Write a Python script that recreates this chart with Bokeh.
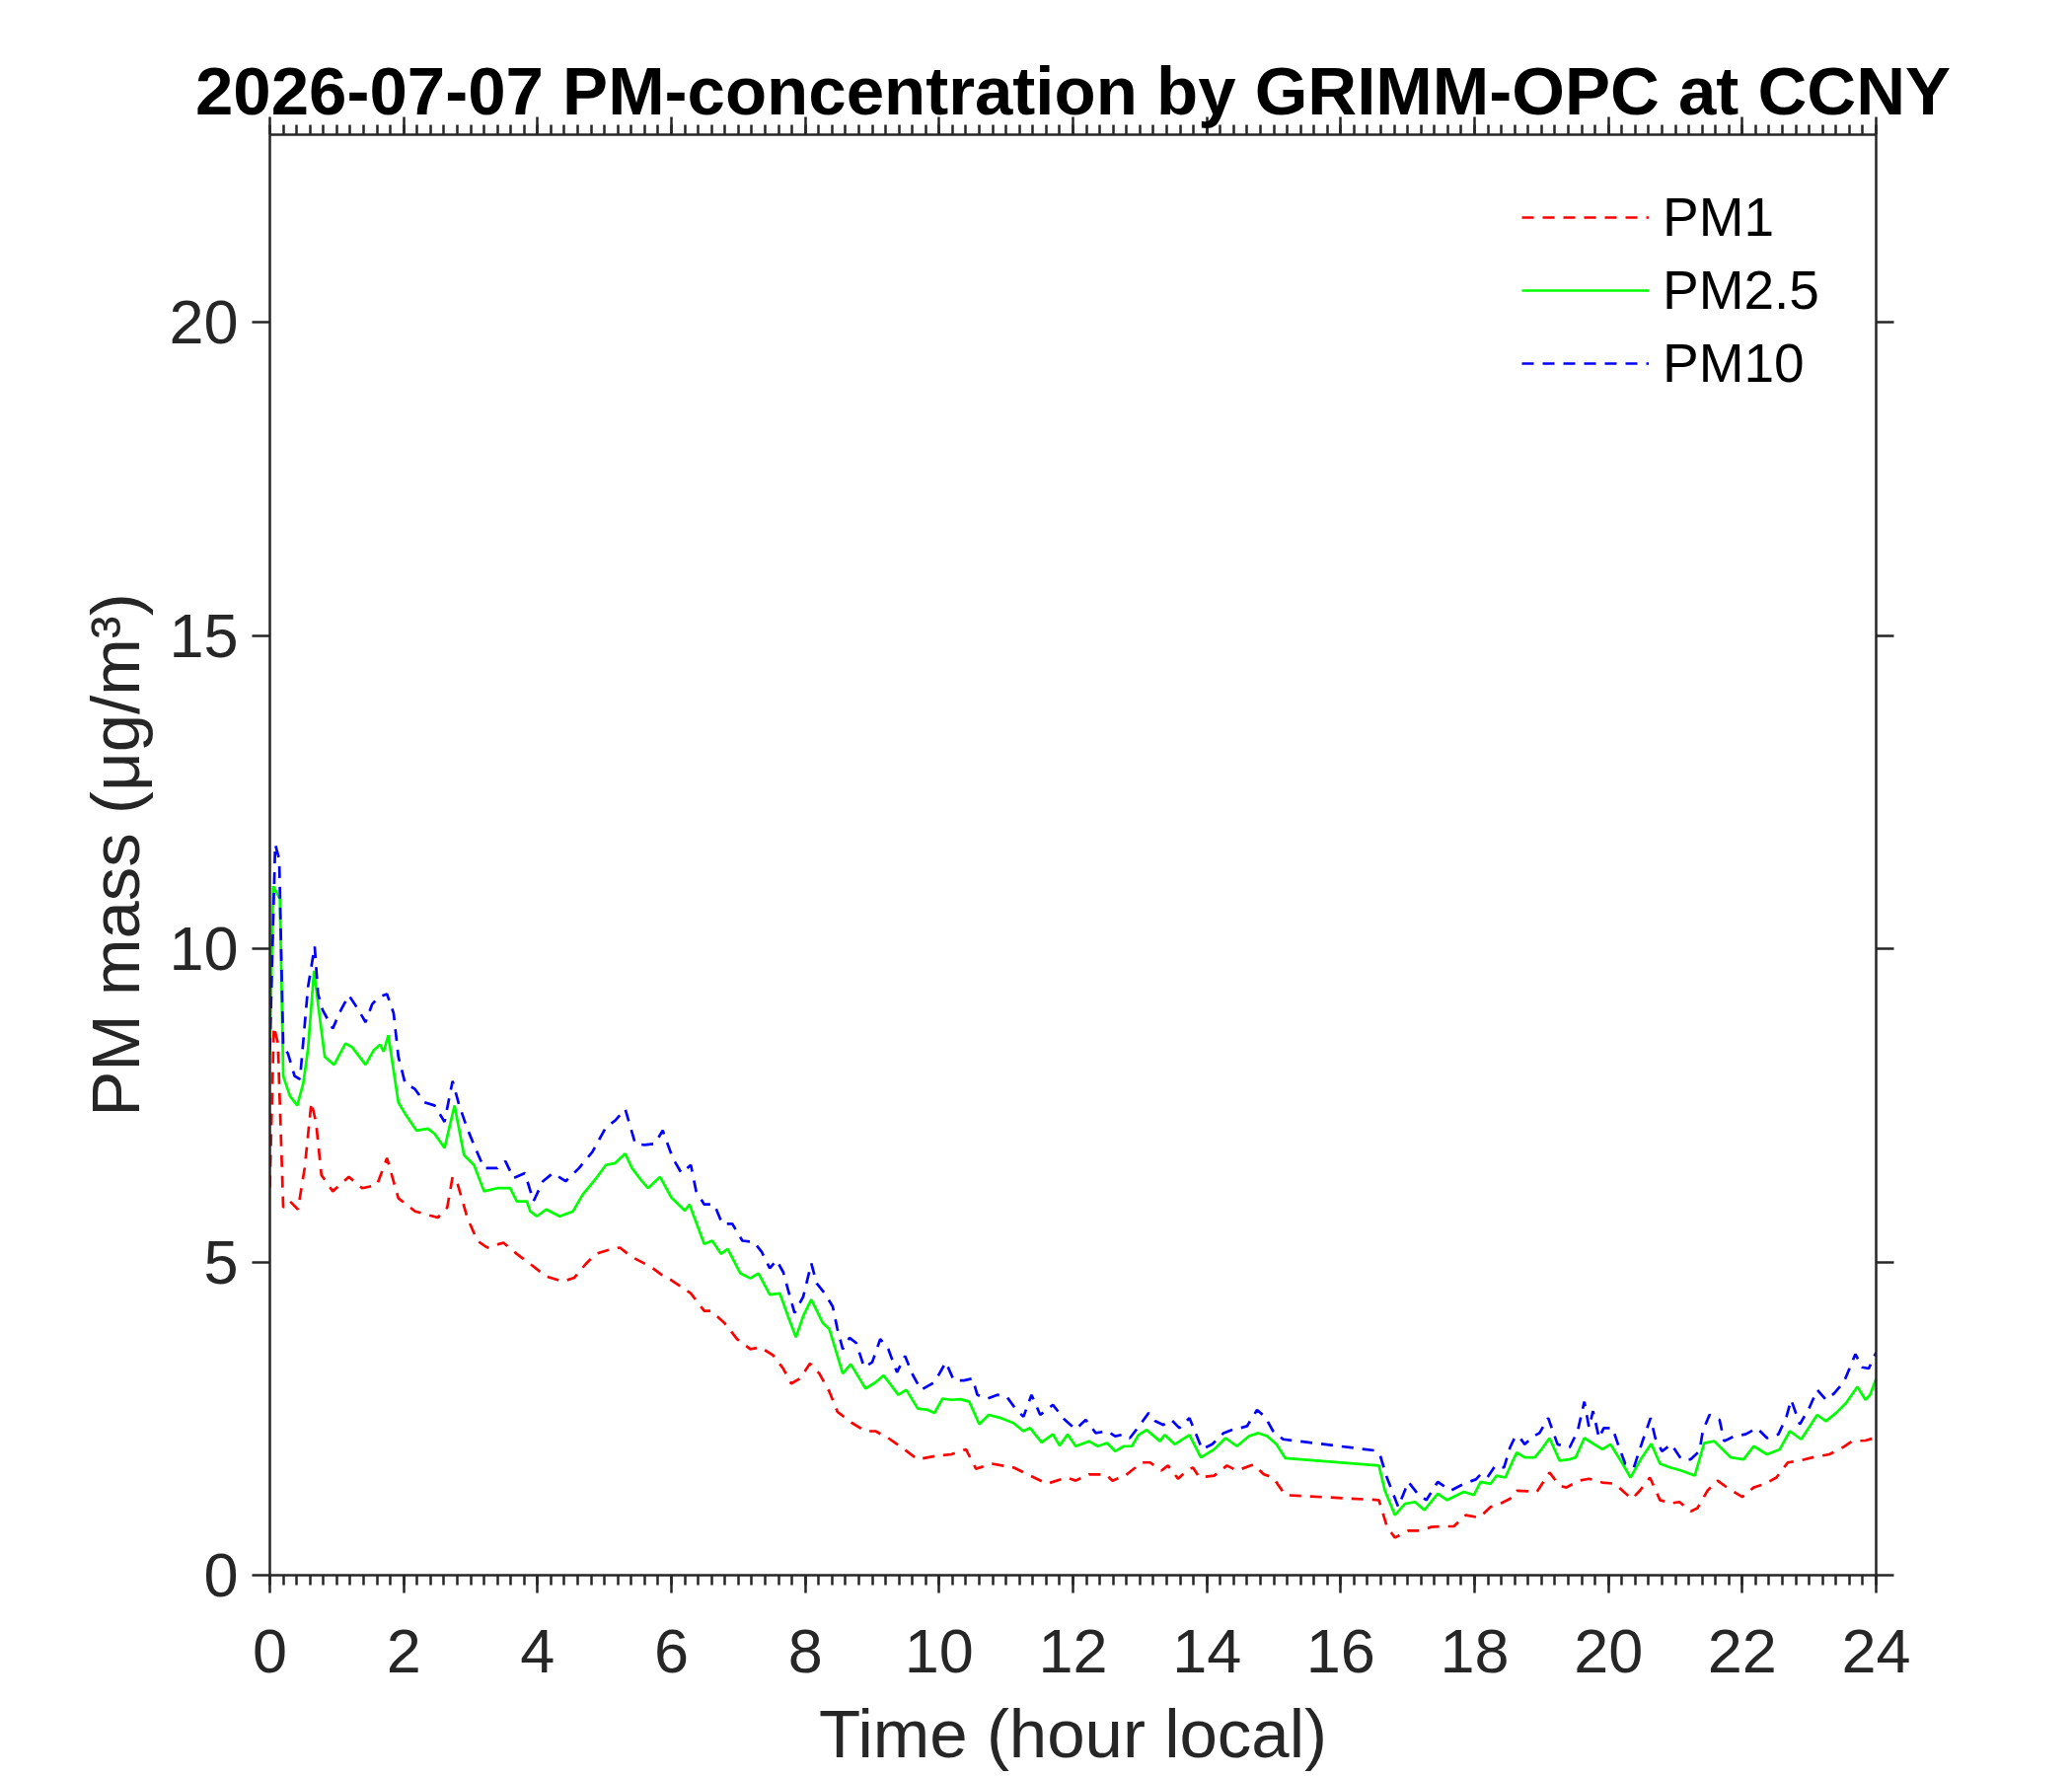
from bokeh.plotting import figure
from bokeh.models import Range1d, LinearAxis, SingleIntervalTicker
from bokeh.embed import file_html
from bokeh.resources import INLINE

title_text = "2026-07-07 PM-concentration by GRIMM-OPC at CCNY"
x_label = "Time (hour local)"
y_label = "PM mass (\u03bcg/m\u00b3)"
series_names = ["PM1", "PM2.5", "PM10"]

t_pm1 = [0.0, 0.06, 0.12, 0.20, 0.30, 0.42, 0.52, 0.62, 0.69, 0.77, 0.94, 1.18, 1.38, 1.60, 1.75, 1.92,
         2.17, 2.51, 2.65, 2.73, 2.81, 2.95, 3.10, 3.25, 3.49, 3.69, 3.89, 4.13, 4.38, 4.55, 4.72, 4.87,
         5.11, 5.23, 5.41, 5.70, 5.85, 6.00, 6.29, 6.49, 6.59, 6.79, 6.98, 7.18, 7.33, 7.52, 7.67, 7.79,
         7.92, 8.07, 8.21, 8.36, 8.48, 8.70, 8.90, 9.05, 9.24, 9.44, 9.68, 9.93, 10.18, 10.40, 10.55,
         10.79, 11.11, 11.36, 11.61, 11.90, 12.04, 12.24, 12.49, 12.59, 12.78, 13.03, 13.15, 13.32, 13.42,
         13.57, 13.67, 13.79, 13.89, 14.11, 14.30, 14.45, 14.70, 14.85, 14.99, 15.17, 16.57, 16.69, 16.81,
         17.01, 17.20, 17.35, 17.50, 17.69, 17.87, 18.07, 18.24, 18.36, 18.53, 18.63, 18.80, 18.93, 19.12,
         19.27, 19.37, 19.56, 19.71, 19.91, 20.10, 20.23, 20.35, 20.47, 20.62, 20.77, 20.94, 21.06, 21.23,
         21.33, 21.48, 21.63, 21.80, 22.00, 22.17, 22.34, 22.51, 22.68, 22.86, 23.05, 23.30, 23.50, 23.64,
         23.84, 24.00]
pm1 = [6.19, 8.76, 8.50, 5.87, 5.97, 5.84, 6.50, 7.55, 7.23, 6.39, 6.13, 6.36, 6.18, 6.23, 6.66, 6.02,
       5.81, 5.71, 5.87, 6.36, 6.23, 5.71, 5.34, 5.23, 5.31, 5.13, 4.97, 4.77, 4.69, 4.75, 4.97, 5.13,
       5.21, 5.23, 5.08, 4.92, 4.80, 4.71, 4.50, 4.22, 4.22, 4.03, 3.77, 3.61, 3.64, 3.51, 3.30, 3.06,
       3.14, 3.38, 3.22, 2.93, 2.61, 2.43, 2.30, 2.30, 2.19, 2.04, 1.85, 1.90, 1.93, 2.01, 1.70,
       1.78, 1.72, 1.59, 1.46, 1.56, 1.51, 1.61, 1.61, 1.51, 1.59, 1.80, 1.80, 1.67, 1.75,
       1.54, 1.64, 1.72, 1.56, 1.59, 1.75, 1.67, 1.77, 1.61, 1.56, 1.28, 1.20, 0.78, 0.60,
       0.71, 0.71, 0.77, 0.78, 0.78, 0.96, 0.92, 1.09, 1.13, 1.22, 1.35, 1.34, 1.33, 1.64,
       1.43, 1.40, 1.51, 1.54, 1.48, 1.46, 1.33, 1.22, 1.35, 1.56, 1.20, 1.15, 1.17, 1.02,
       1.07, 1.35, 1.51, 1.38, 1.25, 1.40, 1.46, 1.56, 1.80, 1.83, 1.88, 1.93, 2.04, 2.14,
       2.15, 2.20]

t_pm25 = [0.0, 0.05, 0.15, 0.20, 0.30, 0.41, 0.50, 0.57, 0.66, 0.72, 0.82, 0.96, 1.13, 1.23, 1.43, 1.55,
          1.65, 1.70, 1.77, 1.92, 2.02, 2.19, 2.36, 2.46, 2.61, 2.76, 2.90, 3.05, 3.20, 3.40, 3.59, 3.69,
          3.84, 3.89, 3.99, 4.13, 4.33, 4.53, 4.67, 4.87, 5.02, 5.16, 5.31, 5.41, 5.56, 5.65, 5.83,
          6.00, 6.20, 6.27, 6.49, 6.61, 6.74, 6.84, 7.03, 7.18, 7.30, 7.47, 7.62, 7.74, 7.86, 7.97, 8.09,
          8.26, 8.36, 8.56, 8.68, 8.90, 9.05, 9.17, 9.39, 9.51, 9.68, 9.83, 9.93, 10.05, 10.18, 10.32,
          10.45, 10.60, 10.74, 10.92, 11.11, 11.26, 11.36, 11.53, 11.70, 11.80, 11.92,
          12.04, 12.24, 12.37, 12.51, 12.63, 12.76, 12.88, 12.98, 13.10, 13.30, 13.37, 13.52, 13.74, 13.91,
          14.11, 14.28, 14.45, 14.63, 14.77, 14.90, 15.04, 15.17, 16.57, 16.66, 16.81, 16.96, 17.11, 17.25,
          17.45, 17.59, 17.84, 17.99, 18.09, 18.24, 18.33, 18.46, 18.56, 18.63, 18.75, 18.90, 19.00, 19.12,
          19.27, 19.42, 19.51, 19.64, 19.79, 19.91, 20.03, 20.20, 20.33, 20.50, 20.64, 20.77, 20.92, 21.09,
          21.29, 21.43, 21.58, 21.83, 22.02, 22.17, 22.37, 22.56, 22.71, 22.88, 23.12, 23.25, 23.40, 23.55,
          23.72, 23.84, 23.91, 24.00]
pm25 = [8.31, 11.00, 10.80, 7.97, 7.65, 7.50, 7.86, 8.40, 9.65, 9.12, 8.28, 8.15, 8.49, 8.43, 8.15, 8.38,
        8.47, 8.36, 8.62, 7.55, 7.37, 7.10, 7.13, 7.05, 6.82, 7.50, 6.71, 6.55, 6.13, 6.18, 6.18, 5.97,
        5.97, 5.81, 5.73, 5.84, 5.73, 5.81, 6.07, 6.33, 6.55, 6.58, 6.73, 6.50, 6.29, 6.18, 6.36,
        6.03, 5.82, 5.92, 5.29, 5.34, 5.13, 5.21, 4.82, 4.74, 4.82, 4.48, 4.50, 4.14, 3.80, 4.14, 4.40,
        4.03, 3.93, 3.22, 3.37, 2.98, 3.08, 3.19, 2.88, 2.96, 2.66, 2.64, 2.59, 2.82, 2.80, 2.81,
        2.77, 2.41, 2.56, 2.51, 2.43, 2.30, 2.35, 2.12, 2.25, 2.07, 2.25,
        2.06, 2.14, 2.06, 2.11, 1.98, 2.06, 2.06, 2.24, 2.32, 2.14, 2.24, 2.09, 2.24, 1.88,
        2.01, 2.19, 2.06, 2.22, 2.27, 2.22, 2.09, 1.87, 1.75, 1.35, 0.96, 1.14, 1.17, 1.04,
        1.30, 1.20, 1.33, 1.28, 1.49, 1.46, 1.59, 1.56, 1.80, 1.96, 1.88, 1.88, 2.01, 2.19,
        1.83, 1.85, 1.88, 2.19, 2.09, 2.01, 2.09, 1.80, 1.56, 1.88, 2.10, 1.78, 1.72, 1.67,
        1.59, 2.11, 2.14, 1.88, 1.85, 2.06, 1.93, 2.01, 2.30, 2.17, 2.56, 2.46, 2.59, 2.75,
        3.01, 2.80, 2.88, 3.14]

t_pm10 = [0.0, 0.08, 0.14, 0.20, 0.27, 0.37, 0.45, 0.57, 0.67, 0.72, 0.79, 0.94, 1.06, 1.18, 1.31, 1.43,
          1.53, 1.63, 1.75, 1.85, 1.92, 2.02, 2.17, 2.31, 2.46, 2.61, 2.73, 2.83, 2.95, 3.07, 3.20, 3.40,
          3.52, 3.64, 3.81, 3.94, 4.08, 4.23, 4.42, 4.62, 4.82, 5.02, 5.16, 5.31, 5.46, 5.60, 5.75, 5.87,
          6.02, 6.15, 6.29, 6.37, 6.49, 6.64, 6.76, 6.91, 7.06, 7.23, 7.35, 7.47, 7.57, 7.67, 7.77, 7.84,
          7.97, 8.09, 8.17, 8.29, 8.41, 8.48, 8.56, 8.66, 8.76, 8.88, 9.00, 9.12, 9.24, 9.37, 9.49, 9.61,
          9.73, 9.93, 10.10, 10.22, 10.37, 10.50, 10.57, 10.72, 10.87, 11.01, 11.14, 11.26, 11.38, 11.51,
          11.70, 11.87, 12.04, 12.19, 12.34, 12.51, 12.63, 12.76, 12.85, 13.00, 13.13, 13.23, 13.35, 13.47,
          13.59, 13.74, 13.84, 13.93, 14.08, 14.25, 14.40, 14.50, 14.60, 14.75, 14.87, 14.99, 15.14, 16.52,
          16.59, 16.69, 16.86, 17.01, 17.15, 17.28, 17.45, 17.64, 17.84, 18.02, 18.09, 18.19, 18.31, 18.44,
          18.53, 18.61, 18.68, 18.75, 18.88, 18.97, 19.10, 19.17, 19.24, 19.42, 19.54, 19.64, 19.71, 19.77,
          19.86, 19.93, 20.06, 20.16, 20.25, 20.38, 20.50, 20.63, 20.70, 20.80, 20.94, 21.09, 21.23, 21.36,
          21.41, 21.51, 21.66, 21.73, 21.88, 22.05, 22.22, 22.37, 22.54, 22.66, 22.73, 22.86, 23.00, 23.12,
          23.25, 23.37, 23.52, 23.69, 23.79, 23.89, 24.00]
pm10 = [8.39, 11.67, 11.43, 8.44, 8.33, 7.97, 7.92, 9.39, 10.04, 9.28, 9.02, 8.73, 9.02, 9.26, 9.05, 8.83,
        9.12, 9.23, 9.28, 8.97, 8.28, 7.86, 7.76, 7.55, 7.50, 7.24, 7.89, 7.50, 7.13, 6.82, 6.50, 6.50,
        6.61, 6.34, 6.42, 5.97, 6.29, 6.42, 6.29, 6.50, 6.76, 7.15, 7.26, 7.44, 6.89, 6.87, 6.89, 7.10,
        6.66, 6.42, 6.55, 6.13, 5.92, 5.92, 5.61, 5.61, 5.34, 5.32, 5.16, 4.90, 5.03, 4.84, 4.45, 4.19,
        4.45, 4.98, 4.66, 4.50, 4.29, 3.93, 3.61, 3.79, 3.71, 3.32, 3.40, 3.77, 3.61, 3.24, 3.50, 3.19,
        2.96, 3.08, 3.40, 3.11, 3.11, 3.14, 2.88, 2.82, 2.88, 2.85, 2.66, 2.53, 2.88, 2.56,
        2.72, 2.49, 2.33, 2.48, 2.27, 2.30, 2.22, 2.25, 2.19, 2.40, 2.59, 2.46, 2.40, 2.48,
        2.35, 2.51, 2.25, 2.01, 2.09, 2.27, 2.33, 2.35, 2.38, 2.64, 2.53, 2.30, 2.17, 1.99,
        1.91, 1.56, 1.09, 1.49, 1.30, 1.20, 1.49, 1.35, 1.46, 1.53, 1.61, 1.56, 1.75, 1.72,
        2.04, 2.22, 2.19, 2.09, 2.22, 2.27, 2.51, 2.30, 2.09, 2.04, 2.30, 2.77, 2.36, 2.62,
        2.19, 2.35, 2.35, 2.04, 1.78, 1.72, 2.11, 2.51, 2.19, 1.98, 2.09, 1.85, 1.85, 1.98,
        2.30, 2.56, 2.48, 2.14, 2.22, 2.25, 2.35, 2.19, 2.25, 2.53, 2.80, 2.41, 2.67, 2.96,
        2.80, 2.90, 3.09, 3.53, 3.32, 3.30, 3.56]

x_ticks_major = 2
y_ticks_major = 5

FONT = "Liberation Sans"
AXC = "#262626"

p = figure(frame_width=1628, frame_height=1460, x_range=Range1d(0, 24), y_range=Range1d(0, 23),
           output_backend="svg", toolbar_location=None,
           min_border_left=273, min_border_right=180, min_border_top=136, min_border_bottom=150)
p.background_fill_color = "white"
p.border_fill_color = "white"
p.outline_line_color = None
p.xgrid.visible = False
p.ygrid.visible = False

p.title.text = title_text
p.title.align = "center"
p.title.text_font = FONT
p.title.text_font_size = "69px"
p.title.text_font_style = "bold"
p.title.text_color = "black"
p.title.standoff = -24


def style_axis(ax, ticker, labels=True, minor_out=0):
    ax.ticker = ticker
    ax.axis_line_color = AXC
    ax.axis_line_width = 2.5
    ax.major_tick_line_color = AXC
    ax.major_tick_line_width = 2.5
    ax.major_tick_in = 0
    ax.major_tick_out = 18
    ax.minor_tick_line_color = AXC if minor_out else None
    ax.minor_tick_line_width = 2.5
    ax.minor_tick_in = 0
    ax.minor_tick_out = minor_out
    ax.major_label_text_font = FONT
    ax.major_label_text_color = AXC
    if labels:
        ax.major_label_text_font_size = "63px"
        ax.major_label_standoff = 14
    else:
        ax.major_label_text_font_size = "1px"
        ax.major_label_standoff = 0
    ax.axis_label_text_font = FONT
    ax.axis_label_text_color = AXC
    ax.axis_label_text_font_size = "69px"
    ax.axis_label_text_font_style = "normal"


xt = SingleIntervalTicker(interval=x_ticks_major, num_minor_ticks=10)
yt = SingleIntervalTicker(interval=y_ticks_major, num_minor_ticks=0)

style_axis(p.xaxis[0], xt, True, 10)
p.xaxis[0].major_label_standoff = 37
p.xaxis[0].axis_label = x_label
p.xaxis[0].axis_label_standoff = 21
style_axis(p.yaxis[0], yt, True, 0)
p.yaxis[0].axis_label = y_label
p.yaxis[0].axis_label_standoff = 12

top_ax = LinearAxis()
style_axis(top_ax, SingleIntervalTicker(interval=x_ticks_major, num_minor_ticks=10), False, 10)
top_ax.major_label_overrides = {v: "" for v in range(0, 25, 2)}
p.add_layout(top_ax, "above")

right_ax = LinearAxis()
style_axis(right_ax, SingleIntervalTicker(interval=y_ticks_major, num_minor_ticks=0), False, 0)
right_ax.major_label_overrides = {v: "" for v in range(0, 25, 5)}
p.add_layout(right_ax, "right")

p.line(t_pm1, pm1, line_color="#FF0000", line_width=2.7, line_dash="12 9", legend_label=series_names[0])
p.line(t_pm25, pm25, line_color="#00FF00", line_width=2.7, legend_label=series_names[1])
p.line(t_pm10, pm10, line_color="#0000FF", line_width=2.7, line_dash="12 9", legend_label=series_names[2])

lg = p.legend[0]
lg.location = (1269, 1191)
lg.border_line_color = None
lg.background_fill_alpha = 0
lg.padding = 0
lg.margin = 0
lg.spacing = 0
lg.glyph_width = 129
lg.glyph_height = 74
lg.label_height = 74
lg.label_standoff = 14
lg.label_text_font = FONT
lg.label_text_font_size = "55px"
lg.label_text_color = "black"
lg.label_text_baseline = "middle"

open("out.html", "w").write(file_html(p, INLINE))
